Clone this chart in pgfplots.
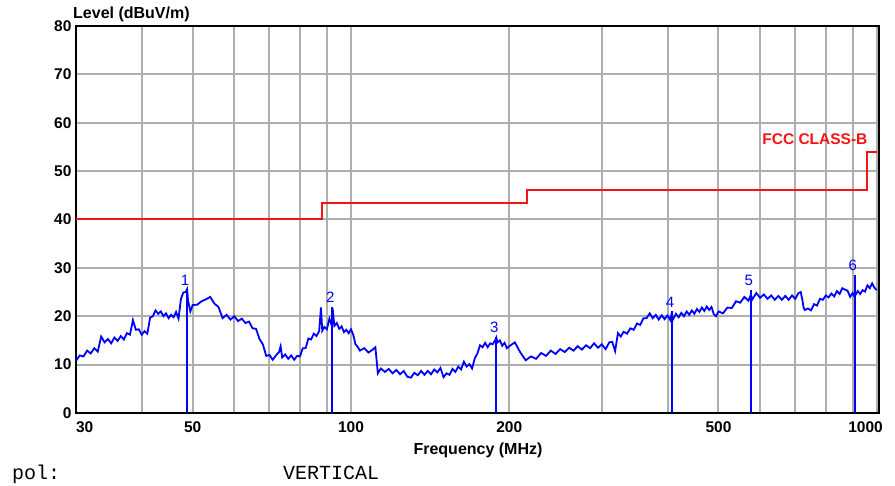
\documentclass[border=0pt]{standalone}
\usepackage{fontspec}
\setmainfont{Liberation Sans}
\newfontfamily\monofont{Liberation Mono}
\usepackage{pgfplots}
\pgfplotsset{compat=1.18}

\definecolor{tracebl}{RGB}{0,0,255}
\definecolor{limred}{RGB}{245,20,20}
\definecolor{gridgr}{RGB}{175,175,175}

\begin{document}
\begin{tikzpicture}
\useasboundingbox (-76pt,-73pt) rectangle (819pt,413pt);
\begin{axis}[
    at={(0pt,0pt)}, anchor=south west,
    scale only axis, width=803pt, height=387pt,
    xmode=log, xmin=30, xmax=1010, ymin=0, ymax=80,
    xtick={30,50,100,200,500,1000},
    xticklabels={\makebox[0pt][l]{30},50,100,200,500,\makebox[0pt][r]{1000\kern-6pt}},
    minor xtick={40,60,70,80,90,300,400,600,700,800,900},
    ytick={0,10,...,80},
    major tick length=0pt, minor tick length=0pt,
    grid=both,
    major grid style={gridgr, line width=2pt},
    minor grid style={gridgr, line width=2pt},
    axis line style={black, line width=2pt},
    /pgf/number format/assume math mode=true,
    tick label style={font=\fontsize{15.5}{16}\selectfont\bfseries},
    xticklabel style={anchor=base, yshift=-20pt},
    yticklabel style={anchor=east, xshift=-1pt},
    log ticks with fixed point,
    clip=false,
]
% limit line
\addplot[limred, line width=2pt, const plot] coordinates {
 (30,40) (88,43.5) (216,46) (960,54) (1000,54)};

% measured trace
\addplot[tracebl, line width=1.8pt] coordinates {
 (30,10.8) (30.5,11.9) (31,11.7) (31.5,12.9) (32,12.3) (32.5,13.4) (33,12.7)
 (33.5,15.8) (34,14.6) (34.5,15.3) (35,14.4) (35.5,15.6) (36,14.9) (36.5,15.9)
 (37,15.2) (37.5,16.5) (38,16.2) (38.5,19.2) (39,17.2) (39.5,17.3) (40,16.2)
 (40.5,16.9) (41,16.4) (41.5,19.7) (42,20.0) (42.5,21.2) (43,20.5) (43.5,21.0)
 (44,20.0) (44.5,20.6) (45,19.6) (45.5,20.3) (46,19.8) (46.5,20.9) (47,19.5)
 (47.5,23.6) (48,24.9) (48.5,25.0) (48.8,25.6) (49,23.2) (49.5,21.0) (50,22.3)
 (51,22.4) (52,23.1) (53,23.5) (54,24.0) (55,22.6) (56,21.9) (57,19.6) (58,20.3)
 (59,19.3) (60,20.0) (61,19.0) (62,19.5) (63,18.6) (64,18.9) (65,17.5) (66,17.4)
 (67,15.3) (68,14.2) (69,11.8) (70,12.0) (71,11.0) (72,11.9) (73,12.6) (73.5,13.8)
 (74,11.5) (75,12.1) (76,11.2) (77,11.9) (78,11.0) (79,11.8) (80,11.7) (81,13.4)
 (82,13.4) (83,15.4) (84,15.2) (85,16.4) (86,15.9) (87,16.9) (87.7,21.8) (88.2,17.0)
 (89,17.8) (90,17.3) (91,19.5) (92,18.0) (92.3,21.6) (93,18.0) (94,18.6) (95,17.4)
 (96,17.9) (97,16.7) (98,17.2) (99,16.5) (100,17.3)
 (101,16.2) (102,14.2) (103,13.7) (104,12.9) (106,13.4) (108,12.5) (110,13.1)
 (111.3,13.6) (112.5,8.2) (114,9.2) (116,8.5) (118,9.1) (120,8.2) (122,8.9)
 (124,8.0) (126,8.7) (128,7.5) (130,7.3) (132,8.3) (134,7.8) (136,8.7) (138,7.9)
 (140,8.7) (142,8.0) (144,9.0) (146,8.4) (148,9.3) (150,7.4) (152,8.2) (154,7.9)
 (156,9.1) (158,8.5) (160,9.6) (162,9.0) (164,10.6) (166,9.6) (168,10.1) (170,9.2)
 (172,11.3) (174,12.3) (176,14.0) (178,13.6) (180,14.5) (182,13.6) (184,14.4)
 (186,14.2) (188,15.0) (189,15.6) (190,14.6) (192,15.0) (194,13.9) (196,14.5)
 (198,13.4) (200,13.8)
 (205,14.6) (210,12.5) (215,10.9) (220,11.7) (225,11.2) (230,12.4) (235,11.8)
 (240,12.9) (245,12.2) (250,13.2) (255,12.6) (260,13.5) (265,12.9) (270,13.8)
 (275,13.1) (280,14.0) (285,13.4) (290,14.4) (295,13.5) (300,14.2) (305,13.2)
 (310,14.6) (314,14.7) (318,12.8) (322,16.5) (326,15.8) (330,16.8) (335,16.4)
 (340,17.5) (345,17.2) (350,18.5) (355,18.2) (360,19.6) (365,19.6) (370,20.6)
 (375,19.6) (380,20.3) (385,19.3) (390,20.2) (395,19.4) (400,20.2) (405,19.2)
 (407,20.4) (410,19.4) (415,20.5) (420,19.8) (425,20.7) (430,20.0) (435,21.0)
 (440,20.3) (445,21.2) (450,20.5) (455,21.5) (460,20.9) (465,21.8) (470,21.1)
 (475,22.0) (480,21.3) (485,21.9) (490,20.4) (495,20.0) (500,21.0)
 (510,20.6) (520,21.8) (530,21.7) (540,23.1) (550,22.8) (560,24.0) (570,23.2)
 (576,24.4) (580,23.5) (590,24.8) (600,23.8) (610,24.5) (620,23.6) (630,24.3)
 (640,23.4) (650,24.2) (660,23.4) (670,24.2) (680,23.4) (690,24.3) (700,23.6)
 (710,24.8) (717,25.0) (722,23.4) (726,21.8) (730,21.3) (740,21.6) (750,21.2)
 (760,22.5) (770,22.2) (780,23.6) (790,23.4) (800,24.3) (810,23.9) (820,24.7)
 (830,24.1) (840,25.2) (850,24.6) (860,25.8) (870,25.5) (880,25.3) (890,24.0)
 (900,24.8) (905,24.2) (910,24.3) (920,25.2) (930,24.6) (940,25.4) (950,25.1)
 (960,26.4) (970,25.8) (980,26.8) (990,25.9) (1000,25.4)
};

% peak markers
\addplot[tracebl, line width=2pt, ycomb,
    point meta=explicit symbolic,
    nodes near coords,
    every node near coord/.append style={anchor=south, tracebl,
        font=\fontsize{15}{15}\selectfont, xshift=-2pt, inner sep=3pt}]
 table[meta=lbl] {
 f     lev   lbl
 48.8  25.5  1
 92.2  22.0  2
 189   15.7  3
 408   21.0  4
 576   25.5  5
 908   28.5  6
};

\node[anchor=east, text=limred, font=\fontsize{15.5}{16}\selectfont\bfseries]
  at (axis cs:975,56.7) {FCC CLASS-B};
\end{axis}

\node[anchor=base west, inner sep=0pt, font=\fontsize{16}{16}\selectfont\bfseries]
  at (-3pt,394pt) {Level (dBuV/m)};
\node[anchor=base, inner sep=0pt, font=\fontsize{16}{16}\selectfont\bfseries]
  at (402pt,-42pt) {Frequency (MHz)};
\node[anchor=base west, inner sep=0pt, font=\monofont\fontsize{20}{20}\selectfont]
  at (-64pt,-67pt) {pol:};
\node[anchor=base west, inner sep=0pt, font=\monofont\fontsize{20}{20}\selectfont]
  at (207pt,-67pt) {VERTICAL};
\end{tikzpicture}
\end{document}
